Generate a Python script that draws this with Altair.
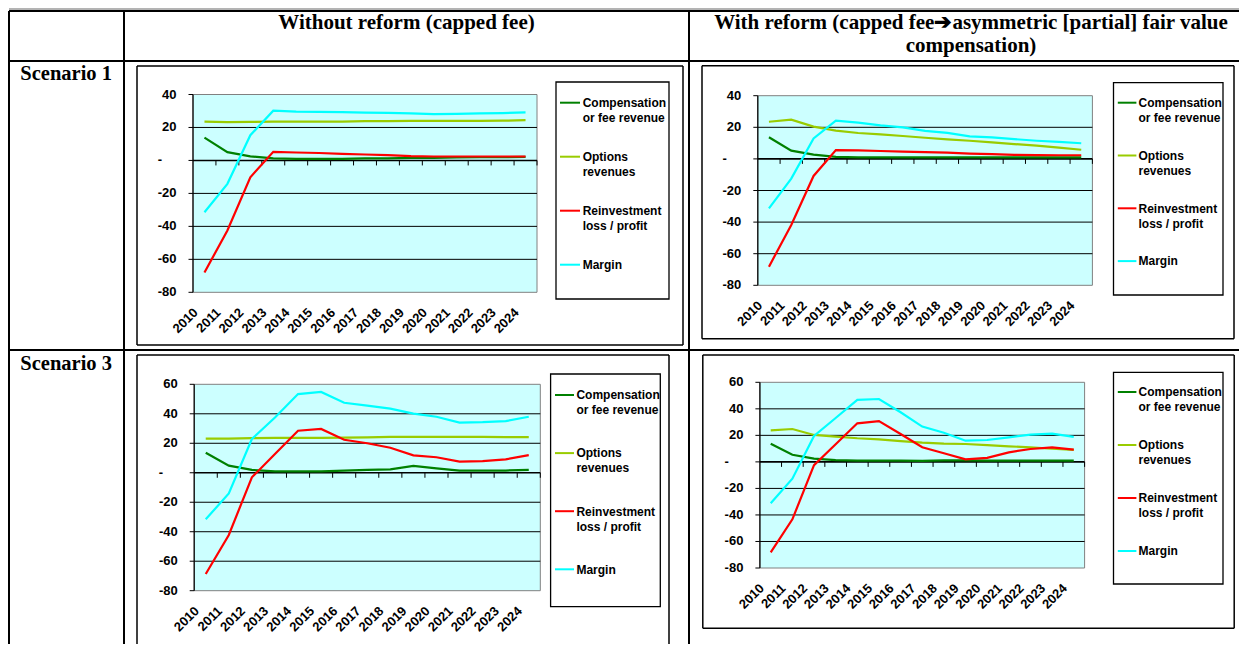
import altair as alt
import pandas as pd

# ---------------- data ----------------
years = [str(y) for y in range(2010, 2025)]
series_names = ["Compensation or fee revenue", "Options revenues",
                "Reinvestment loss / profit", "Margin"]
legend_labels = ["Compensation\nor fee revenue", "Options\nrevenues",
                 "Reinvestment\nloss / profit", "Margin"]
series_colors = ["#008000", "#99CC00", "#FF0000", "#00FFFF"]

col_header_1 = "Without reform (capped fee)"
col_header_2 = ["With reform (capped fee\u2794asymmetric [partial] fair value", "compensation)"]
row_headers = ["Scenario 1", "Scenario 3"]

ticks_s1 = [-80, -60, -40, -20, 0, 20, 40]
ticks_s3 = [-80, -60, -40, -20, 0, 20, 40, 60]

# Scenario 1, without reform
s1_wo_comp = [13.8, 5.0, 2.5, 1.2, 1.0, 1.0, 1.0, 1.2, 1.3, 1.5, 1.6, 1.8, 2.0, 2.0, 2.1]
s1_wo_opt = [23.5, 23.2, 23.4, 23.5, 23.5, 23.5, 23.6, 23.8, 23.9, 24.0, 24.0, 24.0, 24.0, 24.1, 24.4]
s1_wo_reinv = [-68.0, -42.5, -10.2, 5.2, 4.8, 4.5, 4.0, 3.6, 3.2, 2.6, 2.4, 2.4, 2.4, 2.4, 2.4]
s1_wo_margin = [-31.4, -14.2, 15.3, 30.2, 29.6, 29.5, 29.3, 29.0, 28.8, 28.6, 28.1, 28.3, 28.5, 28.7, 29.1]

# Scenario 1, with reform
s1_w_comp = [13.7, 5.2, 2.7, 1.3, 1.0, 1.0, 1.0, 1.0, 1.0, 1.0, 1.0, 1.0, 1.0, 1.0, 1.0]
s1_w_opt = [23.5, 24.8, 20.4, 17.9, 16.4, 15.5, 14.5, 13.4, 12.4, 11.5, 10.5, 9.4, 8.4, 7.1, 5.8]
s1_w_reinv = [-68.2, -41.8, -10.8, 5.6, 5.4, 5.0, 4.6, 4.3, 4.0, 3.4, 3.0, 2.6, 2.4, 2.3, 2.3]
s1_w_margin = [-31.3, -12.5, 13.0, 24.2, 22.9, 21.2, 20.0, 17.7, 16.5, 14.3, 13.6, 12.5, 11.5, 10.8, 9.9]

# Scenario 3, without reform
s3_wo_comp = [13.6, 4.8, 1.9, 1.0, 1.0, 1.0, 1.5, 2.0, 2.3, 4.6, 3.0, 1.5, 1.5, 1.5, 2.0]
s3_wo_opt = [23.2, 23.2, 23.5, 23.6, 23.7, 23.7, 23.8, 24.0, 24.3, 24.4, 24.4, 24.4, 24.4, 24.2, 24.2]
s3_wo_reinv = [-68.7, -42.2, -3.1, 12.7, 28.5, 29.7, 22.4, 20.0, 17.0, 11.8, 10.5, 7.5, 7.9, 9.1, 12.0]
s3_wo_margin = [-31.6, -14.0, 22.9, 37.5, 53.4, 54.8, 47.5, 45.5, 43.5, 40.1, 38.0, 34.0, 34.3, 35.0, 38.0]

# Scenario 3, with reform
s3_w_comp = [13.7, 5.4, 2.4, 1.4, 1.0, 1.0, 1.0, 0.8, 1.2, 1.2, 1.0, 1.0, 1.0, 1.0, 1.0]
s3_w_opt = [23.8, 24.8, 20.3, 19.0, 17.8, 17.0, 15.7, 14.5, 13.7, 13.5, 12.7, 11.7, 11.0, 9.9, 9.0]
s3_w_reinv = [-68.2, -43.3, -2.5, 13.3, 29.1, 30.8, 21.0, 11.0, 6.5, 1.9, 3.0, 7.2, 9.7, 11.0, 9.2]
s3_w_margin = [-31.2, -12.7, 19.5, 33.1, 46.7, 47.4, 37.4, 26.6, 22.0, 16.0, 16.5, 18.5, 20.5, 21.3, 18.8]

# ---------------- layout ----------------
BAND_H = 3
HEAD_H, ROW1_H, ROW2_H = 53, 289, 294
COL0_W, COL1_W, COL2_W = 115, 565, 550

SERIF = "Liberation Serif"
SANS = "Liberation Sans"

one = pd.DataFrame({"k": [0]})


def borders(w, h, top=0):
    base = alt.Chart(one)
    return [
        base.mark_rule(color="black", strokeWidth=2).encode(
            x=alt.value(0), y=alt.value(top), y2=alt.value(h)),
        base.mark_rule(color="black", strokeWidth=2).encode(
            x=alt.value(0), x2=alt.value(w), y=alt.value(top)),
    ]


def panel(vals, ticks, geo, w, h):
    rows = []
    for name, arr in zip(series_names, vals):
        for yr, v in zip(years, arr):
            rows.append({"year": yr, "series": name, "value": v})
    df = pd.DataFrame(rows)

    fx0, fx1, fy0, fy1 = geo["frame"]
    px0, px1, py0, py1 = geo["plot"]
    lx0, lx1, ly0, ly1 = geo["legend"]
    ymin, ymax = ticks[0], ticks[-1]

    xs = alt.Scale(type="band", domain=years, range=[px0, px1],
                   paddingInner=0, paddingOuter=0)
    ys = alt.Scale(domain=[ymin, ymax], range=[py1, py0], nice=False, zero=False)

    base = alt.Chart(one)
    layers = []
    fy1c = min(fy1, h)
    layers.append(base.mark_rect(fill="white", strokeWidth=0).encode(
        x=alt.value(fx0), x2=alt.value(fx1), y=alt.value(fy0), y2=alt.value(fy1c)))
    edges = [(fx0, fy0, fx0, fy1c), (fx1, fy0, fx1, fy1c), (fx0, fy0, fx1, fy0)]
    if fy1 <= h:
        edges.append((fx0, fy1, fx1, fy1))
    for (a, b, c, d) in edges:
        layers.append(base.mark_rule(color="black", strokeWidth=1.5).encode(
            x=alt.value(a), y=alt.value(b), x2=alt.value(c), y2=alt.value(d)))

    # plot area
    layers.append(base.mark_rect(fill="#CCFFFF", stroke="#808080", strokeWidth=1).encode(
        x=alt.value(px0), x2=alt.value(px1), y=alt.value(py0), y2=alt.value(py1)))

    # grid lines
    grid_df = pd.DataFrame({"v": [t for t in ticks if t not in (ymin, ymax, 0)]})
    layers.append(alt.Chart(grid_df).mark_rule(color="black", strokeWidth=1).encode(
        y=alt.Y("v:Q", scale=ys, axis=None), x=alt.value(px0), x2=alt.value(px1)))

    # y axis: line, ticks, labels
    tick_df = pd.DataFrame({"v": ticks})
    nz_df = pd.DataFrame({"v": [t for t in ticks if t != 0],
                          "lab": [str(t) for t in ticks if t != 0]})
    z_df = pd.DataFrame({"v": [0], "lab": ["-"]})
    layers.append(base.mark_rule(color="black", strokeWidth=1.2).encode(
        x=alt.value(px0), y=alt.value(py0), y2=alt.value(py1)))
    layers.append(alt.Chart(tick_df).mark_rule(color="black", strokeWidth=1).encode(
        y=alt.Y("v:Q", scale=ys, axis=None), x=alt.value(px0 - 4.5), x2=alt.value(px0)))
    ylab = dict(align="right", baseline="middle", font=SANS, fontWeight="bold",
                fontSize=13, color="black")
    layers.append(alt.Chart(nz_df).mark_text(**ylab).encode(
        y=alt.Y("v:Q", scale=ys, axis=None), x=alt.value(px0 - 16.5), text="lab:N"))
    layers.append(alt.Chart(z_df).mark_text(**ylab).encode(
        y=alt.Y("v:Q", scale=ys, axis=None), x=alt.value(px0 - 31), text="lab:N"))

    # zero axis line with category ticks
    layers.append(base.mark_rule(color="black", strokeWidth=1.6).encode(
        y=alt.YDatum(0, axis=None), x=alt.value(px0), x2=alt.value(px1)))
    year_df = pd.DataFrame({"year": years})
    layers.append(alt.Chart(year_df).mark_rule(color="black", strokeWidth=1, y2Offset=5).encode(
        x=alt.X("year:O", scale=xs, bandPosition=1, axis=None),
        y=alt.YDatum(0, axis=None), y2=alt.Y2Datum(0)))

    # x labels
    layers.append(alt.Chart(year_df).mark_text(
        angle=315, align="right", baseline="top", font=SANS, fontWeight="bold",
        fontSize=13, color="black", xOffset=-13).encode(
        x=alt.X("year:O", scale=xs, bandPosition=0.5, axis=None),
        y=alt.value(py1 + 14), text="year:N"))

    layers.append(alt.Chart(df).mark_line(strokeWidth=2.2).encode(
        x=alt.X("year:O", scale=xs, bandPosition=0.5, axis=None),
        y=alt.Y("value:Q", scale=ys, axis=None),
        color=alt.Color("series:N", scale=alt.Scale(domain=series_names, range=series_colors),
                        legend=None)))

    # legend box
    layers.append(base.mark_rect(fill="white", stroke="black", strokeWidth=1.3).encode(
        x=alt.value(lx0), x2=alt.value(lx1), y=alt.value(ly0), y2=alt.value(ly1)))
    r0, step = geo["rows"]
    s0, s1 = geo["sym"]
    for i, (lab, col) in enumerate(zip(legend_labels, series_colors)):
        yy = r0 + i * step
        layers.append(base.mark_rule(color=col, strokeWidth=2).encode(
            x=alt.value(s0), x2=alt.value(s1), y=alt.value(yy)))
        layers.append(base.mark_text(align="left", baseline="alphabetic", font=SANS,
                                     fontWeight="bold", fontSize=12, lineBreak="\n",
                                     lineHeight=15, color="black").encode(
            x=alt.value(geo["text_x"]), y=alt.value(yy + 4.3), text=alt.value(lab)))

    layers += borders(w, h)
    return alt.layer(*layers).properties(width=w, height=h)


def text_cell(lines, xs_, ys_, align, w, h, header=False, size=20.5):
    base = alt.Chart(one)
    layers = []
    top = 0
    if header:
        top = BAND_H
        layers.append(base.mark_rect(color="#B3B3B3").encode(
            x=alt.value(0), x2=alt.value(w), y=alt.value(0), y2=alt.value(BAND_H)))
    for t, x, y in zip(lines, xs_, ys_):
        layers.append(base.mark_text(align=align, baseline="alphabetic", font=SERIF,
                                     fontWeight="bold", fontSize=size, color="black").encode(
            x=alt.value(x), y=alt.value(y), text=alt.value(t)))
    layers += borders(w, h, top)
    return alt.layer(*layers).properties(width=w, height=h)


geo_s1_wo = dict(frame=(13, 559, 5, 284), plot=(69, 413, 33.5, 231.3),
                 legend=(432, 545, 21, 238), rows=(41.7, 54), sym=(436, 456), text_x=458.7)
geo_s1_w = dict(frame=(13, 545, 4.7, 277.7), plot=(68.8, 403.4, 34.7, 224.3),
                legend=(424.5, 534, 21.7, 234), rows=(41.7, 52.8), sym=(428.8, 447.4), text_x=449.5)
geo_s3_wo = dict(frame=(13, 545, 5, 305), plot=(70.2, 416.3, 34.3, 240.7),
                 legend=(426.6, 536.3, 24, 256.7), rows=(45, 58.1), sym=(431, 450), text_x=452.4)
geo_s3_w = dict(frame=(13.8, 545.2, 5, 278.3), plot=(70.9, 395.6, 32.3, 218),
                legend=(424.5, 534, 22.3, 234), rows=(42, 53), sym=(428.8, 447.4), text_x=449.5)

cells = [
    text_cell([], [], [], "left", COL0_W, HEAD_H, header=True),
    text_cell([col_header_1], [282.5], [21], "center", COL1_W, HEAD_H, header=True, size=21),
    text_cell(col_header_2, [282, 282], [20.5, 43.5], "center", COL2_W, HEAD_H, header=True, size=21),
    text_cell([row_headers[0]], [11.3], [19], "left", COL0_W, ROW1_H),
    panel([s1_wo_comp, s1_wo_opt, s1_wo_reinv, s1_wo_margin], ticks_s1, geo_s1_wo, COL1_W, ROW1_H),
    panel([s1_w_comp, s1_w_opt, s1_w_reinv, s1_w_margin], ticks_s1, geo_s1_w, COL2_W, ROW1_H),
    text_cell([row_headers[1]], [11.3], [19.5], "left", COL0_W, ROW2_H),
    panel([s3_wo_comp, s3_wo_opt, s3_wo_reinv, s3_wo_margin], ticks_s3, geo_s3_wo, COL1_W, ROW2_H),
    panel([s3_w_comp, s3_w_opt, s3_w_reinv, s3_w_margin], ticks_s3, geo_s3_w, COL2_W, ROW2_H),
]

chart = alt.concat(*cells, columns=3, spacing=0, bounds="flush", padding=0
                   ).configure_view(strokeWidth=0)

chart.save("out.html", embed_options={"renderer": "svg", "actions": False})
